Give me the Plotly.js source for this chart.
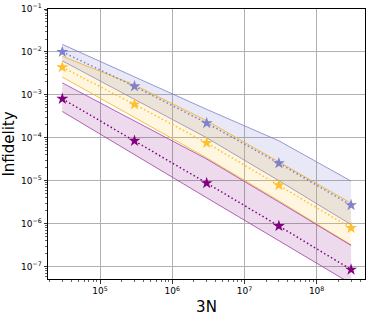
<!DOCTYPE html>
<html><head><meta charset="utf-8">
<script src="https://cdn.plot.ly/plotly-3.0.1.min.js"></script>
<style>html,body{margin:0;padding:0;background:#fff}#c{width:374px;height:317px}</style>
</head><body><div id="c"></div>
<script>
const xN = [3e4, 3e5, 3e6, 3e7, 3e8];

const blueMean  = [1.0e-2, 1.58e-3, 2.2e-4, 2.55e-5, 2.7e-6];
const blueUpper = [1.5e-2, 2.6e-3, 4.6e-4, 8.5e-5, 9.8e-6];
const blueLower = [6.2e-3, 8.0e-4, 1.0e-4, 1.0e-5, 9.5e-7];

const orangeMean  = [4.4e-3, 6.0e-4, 7.6e-5, 7.9e-6, 7.9e-7];
const orangeUpper = [7.9e-3, 1.7e-3, 2.5e-4, 2.8e-5, 3.0e-6];
const orangeLower = [2.6e-3, 3.0e-4, 3.4e-5, 3.4e-6, 3.2e-7];

const purpleMean  = [8.1e-4, 8.5e-5, 8.8e-6, 8.8e-7, 8.5e-8];
const purpleUpper = [1.9e-3, 2.5e-4, 3.2e-5, 3.2e-6, 3.1e-7];
const purpleLower = [4.1e-4, 4.0e-5, 4.0e-6, 4.0e-7, 4.0e-8];

const xTickExp = [5, 6, 7, 8];
const yTickExp = [-7, -6, -5, -4, -3, -2, -1];

const series = [
  {mean: blueMean, up: blueUpper, lo: blueLower, line: 'rgba(120,120,205,0.75)', fill: 'rgba(120,120,200,0.17)', mk: '#8080cc'},
  {mean: orangeMean, up: orangeUpper, lo: orangeLower, line: 'rgba(245,180,40,0.85)', fill: 'rgba(255,200,60,0.16)', mk: '#ffbf2a'},
  {mean: purpleMean, up: purpleUpper, lo: purpleLower, line: 'rgba(160,60,170,0.8)', fill: 'rgba(140,30,140,0.16)', mk: '#800080'}
];

const traces = [];
series.forEach(s => {
  traces.push({x: xN, y: s.lo, mode: 'lines', line: {color: s.line, width: 1}, hoverinfo: 'skip', showlegend: false});
  traces.push({x: xN, y: s.up, mode: 'lines', line: {color: s.line, width: 1}, fill: 'tonexty', fillcolor: s.fill, hoverinfo: 'skip', showlegend: false});
});
series.forEach(s => {
  traces.push({x: xN, y: s.mean, mode: 'lines+markers', line: {color: s.mk, width: 1.5, dash: '1.5px,2.5px'},
    marker: {symbol: 'star', size: 9, color: s.mk}, showlegend: false});
});

function minorVals(lo, hi) {
  const v = [];
  for (let k = lo; k <= hi; k++) for (let m = 2; m <= 9; m++) v.push(m * Math.pow(10, k));
  return v;
}
const pw = e => Math.pow(10, e);
const lbl = e => '10<sup>' + (e < 0 ? '\u2212' + (-e) : e) + '</sup>';

const axisCommon = {
  type: 'log', showline: true, linecolor: '#000', linewidth: 1, mirror: true,
  ticks: 'outside', ticklen: 3.5, tickwidth: 0.8, tickcolor: '#000',
  showgrid: true, gridcolor: '#b0b0b0', gridwidth: 1, zeroline: false,
  tickfont: {family: 'DejaVu Sans', size: 9, color: '#000'}
};

const layout = {
  width: 374, height: 317,
  margin: {l: 48, r: 9, t: 9, b: 38},
  paper_bgcolor: '#fff', plot_bgcolor: '#fff',
  xaxis: Object.assign({}, axisCommon, {range: [4.279, 8.67],
    tickmode: 'array', tickvals: xTickExp.map(pw), ticktext: xTickExp.map(lbl),
    minor: {tickmode: 'array', tickvals: minorVals(4, 8), ticks: 'outside', ticklen: 2, tickwidth: 0.6, tickcolor: '#000', showgrid: false},
    title: {text: '3N', font: {family: 'DejaVu Sans', size: 15, color: '#000'}, standoff: 6}}),
  yaxis: Object.assign({}, axisCommon, {range: [-7.29, -1],
    tickmode: 'array', tickvals: yTickExp.map(pw), ticktext: yTickExp.map(lbl),
    minor: {tickmode: 'array', tickvals: minorVals(-8, -2), ticks: 'outside', ticklen: 2, tickwidth: 0.6, tickcolor: '#000', showgrid: false},
    title: {text: 'Infidelity', font: {family: 'DejaVu Sans', size: 15, color: '#000'}, standoff: 4}}),
  showlegend: false
};

Plotly.newPlot('c', traces, layout, {staticPlot: true, displayModeBar: false});
</script></body></html>
